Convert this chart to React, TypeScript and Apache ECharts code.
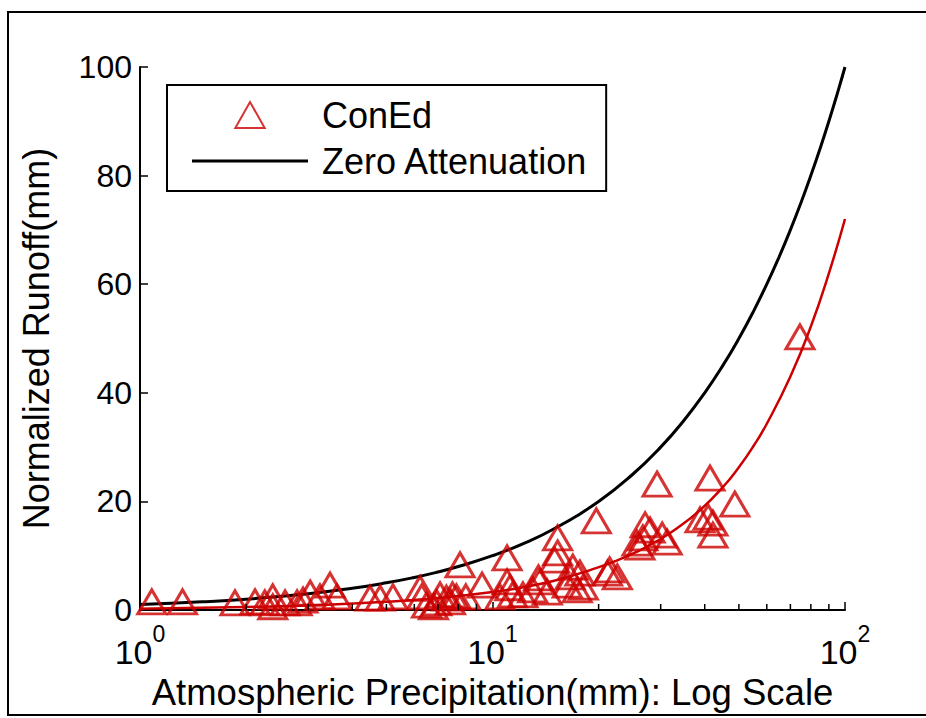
import React, { useEffect, useRef } from 'react';
import * as echarts from 'echarts';

// ConEd observations: atmospheric precipitation (mm) vs normalized runoff (mm)
const conEdX = [
  1.08, 1.32, 1.86, 2.12, 2.26, 2.38, 2.38, 2.58, 2.79, 2.9,
  3.04, 3.24, 3.46, 3.62, 4.49, 4.8, 5.22, 6.23, 6.3, 6.5,
  6.8, 6.95, 7.1, 7.4, 7.6, 7.7, 7.9, 8.09, 8.4, 9.34,
  10.5, 11.0, 11.0, 11.2, 11.4, 12.2, 13.0, 13.5, 13.6, 14.3,
  15.0, 15.3, 15.3, 16.3, 16.6, 16.9, 17.4, 17.7, 18.1, 19.7,
  21.2, 21.5, 22.6, 25.7, 26.2, 26.7, 27.1, 28.0, 29.3, 30.3,
  31.3, 38.8, 40.9, 41.4, 42.2, 42.2, 48.7, 74.5,
];
const conEdY = [
  1.5, 1.5, 1.3, 1.5, 1.3, 2.4, 0.6, 1.3, 1.3, 1.8,
  3.1, 2.4, 4.6, 2.4, 2.2, 2.2, 2.4, 4.0, 2.4, 0.9,
  0.6, 1.3, 2.8, 2.2, 1.5, 2.8, 2.4, 8.3, 2.4, 4.6,
  2.4, 9.6, 5.2, 4.1, 2.8, 2.8, 3.7, 5.9, 5.2, 3.3,
  9.2, 13.3, 10.5, 4.6, 6.1, 7.9, 3.7, 6.8, 4.2, 16.4,
  6.8, 7.4, 6.1, 12.3, 11.6, 13.3, 15.7, 14.7, 23.2, 13.8,
  12.5, 16.6, 17.1, 24.3, 16.0, 13.8, 19.5, 50.3,
];

// Fitted ConEd runoff curve
const fitX = [1, 2, 3, 5, 7, 10, 13, 16, 19, 22.5, 26, 29.3, 33.3, 38.8, 45, 50, 55, 60, 70, 80, 90, 100];
const fitY = [0.25, 0.55, 0.85, 1.5, 2.2, 3.3, 4.5, 5.9, 7.4, 9.1, 10.9, 12.7, 15.0, 18.4, 22.6, 26.3, 30.2, 34.3, 43.0, 52.2, 62.0, 72.0];

// Zero attenuation: runoff equals precipitation
const zeroX = [1, 1.5, 2, 3, 4, 5, 6, 7, 8, 10, 12, 15, 20, 25, 30, 35, 40, 45, 50, 55, 60, 65, 70, 75, 80, 85, 90, 95, 100];
const zeroY = [1, 1.5, 2, 3, 4, 5, 6, 7, 8, 10, 12, 15, 20, 25, 30, 35, 40, 45, 50, 55, 60, 65, 70, 75, 80, 85, 90, 95, 100];

const xMinorTicks = [2, 3, 4, 5, 6, 7, 8, 9, 20, 30, 40, 50, 60, 70, 80, 90];
const xTickExponents = ['0', '1', '2'];
const yTickLabels = ['0', '20', '40', '60', '80', '100'];

const RED = '#cc0000';
const FONT = '"Liberation Sans", Arial, Helvetica, sans-serif';

export default function App() {
  const ref = useRef<HTMLDivElement>(null);

  useEffect(() => {
    const chart = echarts.init(ref.current!, null, { renderer: 'svg' });
    chart.setOption({
      animation: false,
      backgroundColor: '#fff',
      textStyle: { fontFamily: FONT },
      graphic: [
        {
          type: 'rect',
          shape: { x: 8, y: 12, width: 935, height: 703 },
          style: { fill: 'none', stroke: '#000', lineWidth: 2 },
          silent: true,
        },
      ],
      grid: { left: 140, top: 67, right: 81, bottom: 108, containLabel: false },
      legend: {
        data: [
          { name: 'ConEd', icon: 'path://M13,0 L26,23 L0,23 Z' },
          { name: 'Zero Attenuation', icon: 'path://M0,0 L116,0 L116,3 L0,3 Z' },
        ],
        orient: 'vertical',
        left: 167,
        top: 85,
        itemWidth: 116,
        itemHeight: 26,
        itemGap: 10,
        symbolKeepAspect: true,
        padding: [12, 18, 12, 25],
        borderColor: '#000',
        borderWidth: 2,
        backgroundColor: '#fff',
        borderRadius: 0,
        textStyle: { fontSize: 36, color: '#000', fontFamily: FONT, padding: [0, 0, 0, 9] },
      },
      xAxis: {
        type: 'log',
        logBase: 10,
        min: 1,
        max: 100,
        name: 'Atmospheric Precipitation(mm): Log Scale',
        nameLocation: 'middle',
        nameGap: 50,
        nameTextStyle: { fontSize: 36.5, color: '#000', fontFamily: FONT },
        axisLine: { show: true, onZero: false, lineStyle: { color: '#000', width: 2 } },
        axisTick: { show: true, inside: true, length: 8, lineStyle: { color: '#000', width: 1.5 } },
        splitLine: { show: false },
        axisLabel: {
          margin: 12,
          color: '#000',
          formatter: (v: number) => {
            const e = Math.round(Math.log10(v));
            return `{b|10}{s|${xTickExponents[e] ?? e}}`;
          },
          rich: {
            b: { fontSize: 34, fontFamily: FONT, color: '#000', lineHeight: 60 },
            s: { fontSize: 23, fontFamily: FONT, color: '#000', lineHeight: 24, verticalAlign: 'top' },
          },
        },
      },
      yAxis: {
        type: 'value',
        min: 0,
        max: 100,
        interval: 20,
        name: 'Normalized Runoff(mm)',
        nameLocation: 'middle',
        nameGap: 86,
        nameTextStyle: { fontSize: 36, color: '#000', fontFamily: FONT },
        axisLine: { show: true, lineStyle: { color: '#000', width: 2 } },
        axisTick: { show: true, inside: true, length: 8, lineStyle: { color: '#000', width: 1.5 } },
        splitLine: { show: false },
        axisLabel: {
          margin: 8,
          fontSize: 32,
          color: '#000',
          fontFamily: FONT,
          formatter: (v: number) => yTickLabels[Math.round(v / 20)] ?? String(v),
        },
      },
      series: [
        {
          name: 'ConEd',
          type: 'scatter',
          symbol: 'triangle',
          symbolSize: [28, 24],
          data: conEdX.map((x, i) => [x, conEdY[i]]),
          itemStyle: { color: 'rgba(0,0,0,0)', borderColor: RED, borderWidth: 3 },
          z: 4,
        },
        {
          name: 'Zero Attenuation',
          type: 'line',
          symbol: 'none',
          showSymbol: false,
          smooth: true,
          data: zeroX.map((x, i) => [x, zeroY[i]]),
          lineStyle: { color: '#000', width: 3 },
          itemStyle: { color: '#000' },
          z: 3,
        },
        {
          name: 'ConEd fit',
          type: 'line',
          symbol: 'none',
          showSymbol: false,
          smooth: true,
          data: fitX.map((x, i) => [x, fitY[i]]),
          lineStyle: { color: RED, width: 2.5 },
          itemStyle: { color: RED },
          z: 3,
        },
        {
          name: 'minor ticks',
          type: 'custom',
          silent: true,
          data: xMinorTicks.map((v) => [v, 0]),
          renderItem: (params: any, api: any) => {
            const p = api.coord([api.value(0), 0]);
            return {
              type: 'line',
              shape: { x1: p[0], y1: p[1], x2: p[0], y2: p[1] - 6 },
              style: { stroke: '#000', lineWidth: 1.5 },
            };
          },
          z: 5,
        },
      ],
    });
    return () => chart.dispose();
  }, []);

  return (
    <div
      ref={ref}
      style={{ position: 'fixed', left: 0, top: 0, width: 926, height: 718, background: '#fff' }}
    />
  );
}
